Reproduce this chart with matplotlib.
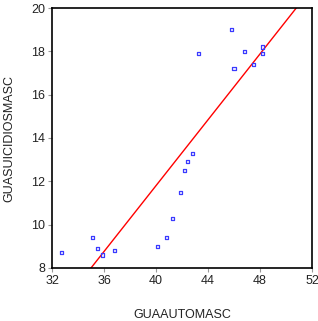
import matplotlib
matplotlib.use('Agg')
import matplotlib.pyplot as plt
import numpy as np

# scatter data
auto_masc = [32.7, 35.1, 35.5, 35.9, 36.8, 40.1, 40.8, 41.3, 41.9, 42.2,
             42.4, 42.8, 43.3, 45.8, 46.8, 46.0, 47.5, 48.2, 48.2]
suicidios_masc = [8.7, 9.4, 8.9, 8.6, 8.8, 9.0, 9.4, 10.3, 11.5, 12.5,
                  12.9, 13.3, 17.9, 19.0, 18.0, 17.2, 17.4, 18.2, 17.9]

# fitted line (slope, intercept)
fit_slope = 0.76
fit_intercept = -18.6

x_ticks = [32, 36, 40, 44, 48, 52]
y_ticks = [8, 10, 12, 14, 16, 18, 20]

plt.rcParams['font.family'] = ['Liberation Sans', 'DejaVu Sans']

fig = plt.figure(figsize=(3.18, 3.21), dpi=100)
ax = fig.add_axes([52 / 318, 53 / 321, 260 / 318, 260 / 321])

ax.scatter(auto_masc, suicidios_masc, s=5, marker='s', facecolors='none',
           edgecolors='#3a3aff', linewidths=0.9, zorder=3)

xs = np.array([32, 52])
ax.plot(xs, fit_slope * xs + fit_intercept, color='red', lw=1.0, zorder=2)

ax.set_xlim(32, 52)
ax.set_ylim(8, 20)
ax.set_xticks(x_ticks)
ax.set_yticks(y_ticks)
ax.tick_params(direction='out', length=3, width=0.8, color='#999999',
               labelsize=9, pad=2, labelcolor='#222222')
for sp in ax.spines.values():
    sp.set_linewidth(1.2)

ax.set_xlabel('GUAAUTOMASC', fontsize=9, labelpad=16, color='#222222')
ax.set_ylabel('GUASUICIDIOSMASC', fontsize=9, labelpad=11, color='#222222')

plt.savefig('out.png', dpi=100)
plt.close()
